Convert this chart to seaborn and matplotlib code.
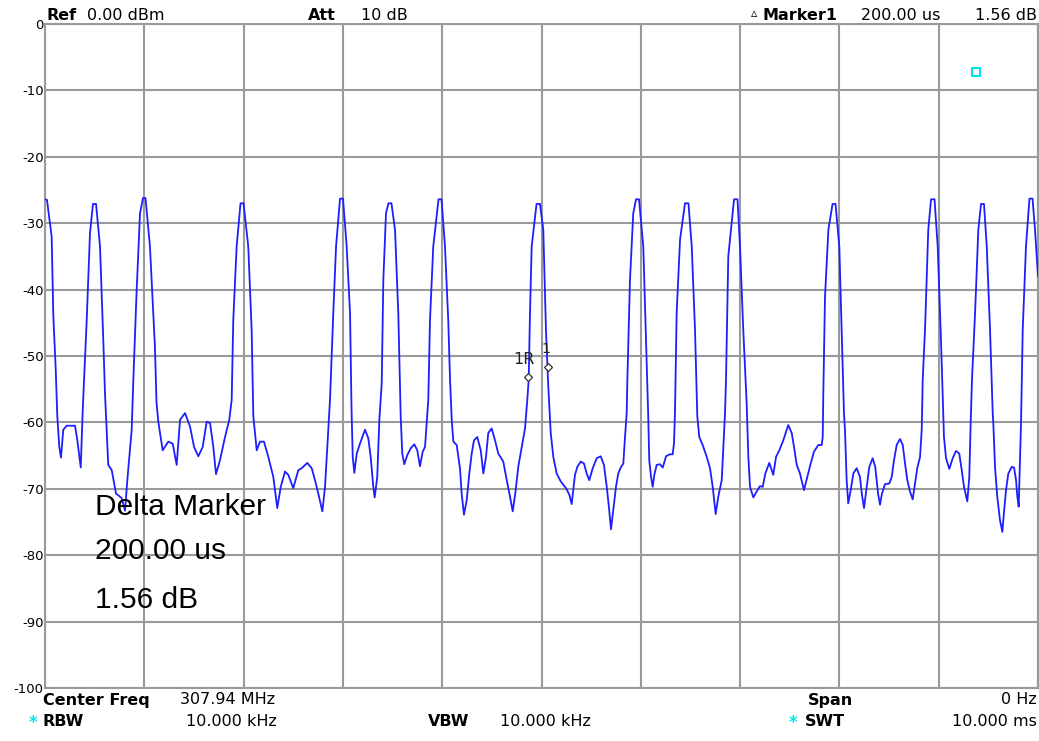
import matplotlib
matplotlib.use('Agg')
import pandas as pd
import matplotlib.pyplot as plt
import seaborn as sns

# trace: time (ms) and level (dBm)
time_ms = [
    0.000, 0.020, 0.067, 0.084, 0.108, 0.124, 0.144, 0.161, 0.184, 0.219,
    0.302, 0.325, 0.360, 0.380, 0.420, 0.453, 0.483, 0.514, 0.554, 0.587,
    0.604, 0.637, 0.672, 0.715, 0.772, 0.806, 0.829, 0.873, 0.891, 0.923,
    0.957, 0.987,
    1.012, 1.057, 1.107, 1.123, 1.141, 1.185, 1.242, 1.286, 1.326, 1.360,
    1.410, 1.460, 1.501, 1.544, 1.588, 1.628, 1.662, 1.695, 1.722, 1.762,
    1.813, 1.856, 1.880, 1.896, 1.930, 1.969, 1.999,
    2.047, 2.081, 2.098, 2.132, 2.165, 2.205, 2.249, 2.299, 2.339, 2.374,
    2.417, 2.450, 2.500, 2.551, 2.585, 2.641, 2.686, 2.719, 2.752, 2.793,
    2.820, 2.843, 2.870, 2.903, 2.931, 2.971,
    3.001, 3.038, 3.072, 3.087, 3.099, 3.115, 3.139, 3.172, 3.223, 3.256,
    3.280, 3.306, 3.320, 3.346, 3.367, 3.391, 3.407, 3.434, 3.459, 3.489,
    3.525, 3.558, 3.582, 3.598, 3.618, 3.649, 3.683, 3.719, 3.749, 3.776,
    3.804, 3.827, 3.844, 3.860, 3.877, 3.910, 3.963, 3.993,
    4.028, 4.061, 4.079, 4.096, 4.112, 4.146, 4.179, 4.196, 4.219, 4.247,
    4.273, 4.297, 4.320, 4.353, 4.388, 4.414, 4.441, 4.464, 4.498, 4.532,
    4.565, 4.615, 4.650, 4.683, 4.710, 4.736, 4.766, 4.801, 4.834, 4.857,
    4.871, 4.884, 4.901, 4.950, 4.985,
    5.018, 5.045, 5.068, 5.093, 5.119, 5.153, 5.194, 5.247, 5.280, 5.304,
    5.320, 5.337, 5.361, 5.395, 5.428, 5.455, 5.481, 5.516, 5.556, 5.596,
    5.629, 5.657, 5.680, 5.700, 5.723, 5.750, 5.773, 5.801, 5.824, 5.841,
    5.858, 5.864, 5.891, 5.924, 5.952, 5.982,
    6.025, 6.059, 6.075, 6.085, 6.103, 6.120, 6.136, 6.160, 6.193, 6.221,
    6.254, 6.294, 6.321, 6.334, 6.344, 6.361, 6.395, 6.445, 6.480, 6.513,
    6.546, 6.569, 6.589, 6.623, 6.664, 6.697, 6.724, 6.754, 6.780, 6.815,
    6.831, 6.848, 6.858, 6.881, 6.939, 6.974,
    6.999, 7.032, 7.066, 7.083, 7.100, 7.133, 7.167, 7.200, 7.228, 7.254,
    7.294, 7.334, 7.362, 7.395, 7.435, 7.485, 7.520, 7.543, 7.570, 7.603,
    7.643, 7.677, 7.711, 7.744, 7.788, 7.822, 7.832, 7.838, 7.855, 7.889,
    7.931, 7.961,
    7.999, 8.023, 8.046, 8.056, 8.073, 8.089, 8.114, 8.140, 8.174, 8.207,
    8.227, 8.248, 8.275, 8.301, 8.335, 8.361, 8.389, 8.409, 8.429, 8.459,
    8.503, 8.527, 8.550, 8.577, 8.610, 8.638, 8.661, 8.684, 8.711, 8.738,
    8.761, 8.784, 8.812, 8.829, 8.839, 8.862, 8.895, 8.923, 8.958, 8.990,
    9.023, 9.040, 9.053, 9.074, 9.107, 9.141, 9.174, 9.207, 9.232, 9.255,
    9.288, 9.308, 9.322, 9.335, 9.366, 9.399, 9.426, 9.456, 9.484, 9.517,
    9.544, 9.550, 9.567, 9.590, 9.617, 9.641, 9.658, 9.678, 9.701, 9.736,
    9.759, 9.779, 9.792, 9.806, 9.812, 9.829, 9.846, 9.879, 9.914, 9.945,
    9.970, 10.000,
]
level_dbm = [
    -26.4, -26.5, -32.0, -44.0, -52.0, -59.1, -63.7, -65.3, -61.1, -60.5,
    -60.5, -62.6, -66.8, -58.1, -44.6, -31.5, -27.1, -27.1, -33.5, -47.6,
    -55.6, -66.4, -67.2, -70.7, -71.4, -73.3, -68.7, -61.1, -53.0, -40.1,
    -28.5, -26.2,
    -26.2, -33.5, -48.6, -57.0, -59.9, -64.2, -62.9, -63.2, -66.4, -59.6,
    -58.6, -60.6, -63.7, -65.1, -63.7, -59.9, -60.1, -63.7, -67.8, -65.7,
    -62.2, -59.6, -56.6, -44.6, -33.5, -27.0, -27.0,
    -33.5, -46.1, -59.1, -64.2, -62.9, -62.9, -65.2, -68.2, -72.9, -69.7,
    -67.4, -67.9, -69.9, -67.2, -66.9, -66.1, -66.9, -68.7, -70.7, -73.4,
    -69.7, -63.7, -56.6, -43.6, -33.5, -26.3,
    -26.3, -33.5, -43.6, -58.1, -65.2, -67.6, -64.7, -63.2, -61.1, -62.4,
    -65.2, -69.7, -71.3, -68.2, -59.6, -54.1, -38.6, -28.5, -27.0, -27.0,
    -31.0, -43.6, -59.1, -64.7, -66.3, -64.9, -63.9, -63.3, -64.2, -66.6,
    -64.4, -63.7, -60.1, -56.6, -44.6, -33.5, -26.4, -26.4,
    -33.5, -44.6, -53.6, -59.6, -62.9, -63.4, -66.9, -70.7, -73.9, -71.7,
    -67.7, -64.7, -62.7, -62.2, -64.2, -67.7, -65.2, -61.6, -60.9, -62.7,
    -64.7, -65.9, -68.7, -71.2, -73.4, -70.7, -66.7, -63.7, -60.9, -56.6,
    -53.6, -43.6, -33.5, -27.1, -27.1,
    -31.0, -46.1, -54.5, -61.6, -65.2, -67.7, -68.9, -69.9, -70.9, -72.3,
    -70.2, -67.9, -66.7, -65.9, -66.2, -67.7, -68.7, -66.9, -65.4, -65.1,
    -66.4, -69.7, -72.9, -76.1, -73.2, -69.7, -67.7, -66.7, -66.2, -62.2,
    -58.6, -54.0, -38.6, -28.5, -26.4, -26.4,
    -33.5, -51.1, -59.1, -65.7, -68.2, -69.7, -67.9, -66.4, -66.3, -66.8,
    -65.1, -64.8, -64.8, -63.2, -58.6, -43.6, -32.5, -27.0, -27.0, -33.5,
    -46.1, -59.1, -62.2, -63.4, -65.2, -66.9, -69.7, -73.8, -71.2, -68.7,
    -63.7, -58.6, -53.6, -35.0, -26.4, -26.4,
    -33.5, -46.1, -57.1, -65.2, -69.7, -71.3, -70.4, -69.6, -69.7, -67.7,
    -66.1, -67.9, -65.2, -64.2, -62.7, -60.4, -61.6, -63.7, -66.4, -67.7,
    -70.2, -68.2, -66.2, -64.4, -63.4, -63.4, -62.2, -55.6, -41.1, -31.0,
    -27.1, -27.1,
    -33.5, -46.1, -58.6, -61.1, -68.7, -72.2, -70.2, -67.7, -66.9, -68.2,
    -70.9, -72.9, -69.7, -66.7, -65.4, -66.7, -70.7, -72.4, -70.7, -69.3,
    -69.2, -68.2, -65.7, -63.4, -62.5, -63.4, -66.2, -68.7, -70.4, -71.6,
    -69.2, -66.9, -65.2, -61.1, -53.6, -46.1, -31.0, -26.4, -26.4, -33.5,
    -47.6, -55.6, -62.2, -65.4, -67.0, -65.4, -64.3, -64.7, -67.2, -69.7,
    -71.9, -68.2, -60.1, -53.6, -43.6, -31.0, -27.1, -27.1, -33.5, -46.1,
    -58.6, -60.1, -66.7, -71.2, -74.7, -76.5, -73.4, -70.2, -67.7, -66.7,
    -66.8, -68.7, -71.2, -72.7, -69.2, -60.1, -46.1, -33.5, -26.3, -26.3,
    -31.0, -38.0,
]

y_ticks = [0, -10, -20, -30, -40, -50, -60, -70, -80, -90, -100]
x_ticks = [0, 1, 2, 3, 4, 5, 6, 7, 8, 9, 10]

# delta marker pair (reference R and marker 1)
marker_time = [4.866, 5.068]
marker_level = [-53.2, -51.6]
# cyan display-line marker near top right
cyan_time = [9.376]
cyan_level = [-7.2]

delta_lines = ['Delta Marker', '200.00 us', '1.56 dB']

df = pd.DataFrame({'t': time_ms, 'level': level_dbm})

sns.set_style('white')
plt.rcParams['font.family'] = ['DejaVu Sans']

W, H = 1039, 741
fig = plt.figure(figsize=(W / 100, H / 100), dpi=100)
ax = fig.add_axes([45 / W, 1 - 688 / H, (1038 - 45) / W, (688 - 24) / H])

grid_c = '#9a9a9a'
sns.lineplot(data=df, x='t', y='level', ax=ax, color='#1e1eff',
             linewidth=1.3, sort=False, estimator=None, zorder=3)

ax.set_xlim(0, 10)
ax.set_ylim(-100, 0)
ax.set_xticks(x_ticks)
ax.set_xticklabels([])
ax.set_yticks(y_ticks)
ax.set_yticklabels([str(v) for v in y_ticks])
ax.tick_params(length=0, pad=1, labelsize=9.5, colors='black')
ax.grid(True, color=grid_c, linewidth=1.5)
for s in ax.spines.values():
    s.set_color(grid_c)
    s.set_linewidth(1.5)
ax.set_xlabel('')
ax.set_ylabel('')

# markers
ax.plot(marker_time, marker_level, linestyle='none', marker='D', markersize=4,
        markerfacecolor='white', markeredgecolor='#333333', markeredgewidth=0.9, zorder=4)
ax.text(marker_time[0] - 0.04, marker_level[0] + 2.6, '1R', fontsize=11.5,
        color='#222222', ha='center', va='center', zorder=5)
ax.text(marker_time[1] - 0.02, marker_level[1] + 2.7, '1', fontsize=10,
        color='#222222', ha='center', va='center', zorder=5)
ax.plot(cyan_time, cyan_level, linestyle='none', marker='s', markersize=6,
        markerfacecolor='none', markeredgecolor='#00e5ee', markeredgewidth=1.5, zorder=4)

# delta marker readout on screen
for txt, yp in zip(delta_lines, [507, 551, 600]):
    fig.text(95 / W, 1 - yp / H, txt, fontsize=21.5, color='black', va='center',
             ha='left', family=['Liberation Sans', 'DejaVu Sans'])


def put(x, y, s, bold=False, ha='left', color='black', size=11.5):
    fig.text(x / W, 1 - y / H, s, fontsize=size, ha=ha, va='center', color=color,
             fontweight='bold' if bold else 'normal')


# header
put(47, 15, 'Ref', bold=True)
put(87, 15, '0.00 dBm')
put(308, 15, 'Att', bold=True)
put(361, 15, '10 dB')
put(751, 14, '\u25b5', size=9)
put(762, 15, 'Marker1', bold=True)
put(861, 15, '200.00 us')
put(1037, 15, '1.56 dB', ha='right')

# footer
put(43, 700, 'Center Freq', bold=True)
put(180, 700, '307.94 MHz')
put(853, 700, 'Span', bold=True, ha='right')
put(1037, 700, '0 Hz', ha='right')
put(29, 723, '*', bold=True, color='#00e5ee', size=12)
put(43, 722, 'RBW', bold=True)
put(186, 722, '10.000 kHz')
put(428, 722, 'VBW', bold=True)
put(500, 722, '10.000 kHz')
put(789, 723, '*', bold=True, color='#00e5ee', size=12)
put(805, 722, 'SWT', bold=True)
put(1037, 722, '10.000 ms', ha='right')

fig.savefig('out.png', dpi=100, facecolor='white')
